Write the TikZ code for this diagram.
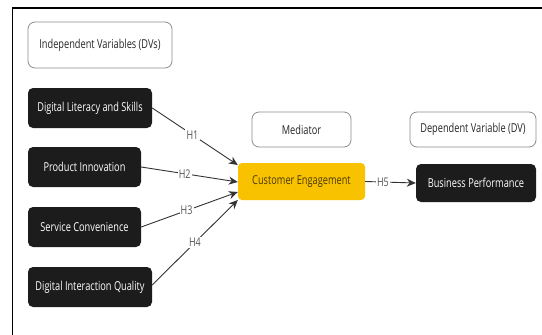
\documentclass[tikz,border=0pt]{standalone}
\usepackage{fontspec}
\setmainfont{Open Sans}[FakeStretch=0.75]
\usetikzlibrary{arrows.meta,calc}
\definecolor{boxblack}{HTML}{1C1C1C}
\definecolor{ceyellow}{HTML}{F8C200}
\definecolor{cetext}{HTML}{4A3A05}
\definecolor{wborder}{HTML}{8C8C8C}
\definecolor{lbl}{HTML}{555555}
\definecolor{lnk}{HTML}{333333}
\begin{document}
\begin{tikzpicture}[x=1pt,y=-1pt,
  blackbox/.style={draw=none,fill=boxblack,text=white,rounded corners=5pt,inner sep=0pt,font=\fontsize{12.3}{14}\selectfont},
  whitebox/.style={draw=wborder,line width=0.8pt,fill=white,text=black!85,rounded corners=7pt,inner sep=0pt,font=\fontsize{12.3}{14}\selectfont},
  yellowbox/.style={draw=none,fill=ceyellow,text=cetext,rounded corners=4pt,inner sep=0pt,font=\fontsize{12.3}{14}\selectfont},
  link/.style={draw=lnk,line width=0.9pt,-{Stealth[length=9pt,width=8pt]}},
  hlabel/.style={fill=white,text=lbl,inner sep=1.2pt,font=\fontsize{12}{13}\selectfont}]
\useasboundingbox[fill=white] (0,0) rectangle (542,335);
\draw[line width=2pt] (12,8) -- (542,8);
\draw[line width=1.6pt] (12.5,7) -- (12.5,335);

\node[whitebox,minimum width=144pt,minimum height=46pt] (IV) at (100,45) {Independent Variables (DVs)};
\node[blackbox,minimum width=124pt,minimum height=40pt] (DLS) at (90,108) {Digital Literacy and Skills};
\node[blackbox,minimum width=113pt,minimum height=40pt] (PI) at (84.5,167) {Product Innovation};
\node[blackbox,minimum width=113pt,minimum height=40pt] (SC) at (84.5,227) {Service Convenience};
\node[blackbox,minimum width=124pt,minimum height=40pt] (DIQ) at (90,287) {Digital Interaction Quality};

\node[whitebox,minimum width=99pt,minimum height=35pt] (MED) at (301.5,129.5) {Mediator};
\node[yellowbox,minimum width=127pt,minimum height=37pt] (CE) at (301.5,181.5) {Customer Engagement};

\node[whitebox,minimum width=126pt,minimum height=35pt] (DV) at (473,129.5) {Dependent Variable (DV)};
\node[blackbox,minimum width=120pt,minimum height=38pt] (BP) at (476,183) {Business Performance};

\coordinate (t1) at ($(CE.west)+(0,-16.5)$);
\coordinate (t2) at ($(CE.west)+(0,0.5)$);
\coordinate (t3) at ($(CE.west)+(0,10.5)$);
\coordinate (t4) at ($(CE.west)+(0,18.5)$);

\draw[link] (DLS.east) -- node[hlabel,pos=0.47] {H1} (t1);
\draw[link] (PI.east) -- node[hlabel,pos=0.45] {H2} (t2);
\draw[link] (SC.east) -- node[hlabel,pos=0.47] {H3} (t3);
\draw[link] ($(DIQ.east)+(0,-2)$) -- node[hlabel,pos=0.5] {H4} (t4);
\draw[link] (CE.east) -- node[hlabel,pos=0.35] {H5} (BP.west);
\end{tikzpicture}
\end{document}
